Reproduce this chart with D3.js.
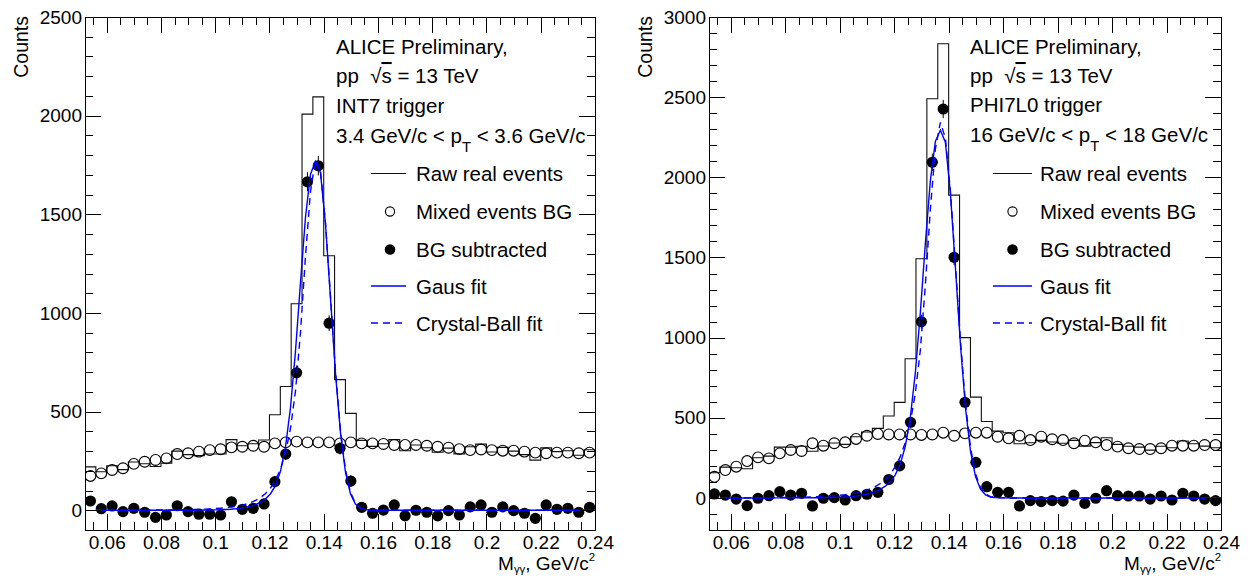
<!DOCTYPE html>
<html>
<head>
<meta charset="utf-8">
<script src="https://cdn.jsdelivr.net/npm/d3@7"></script>
<style>
  html, body { margin: 0; padding: 0; background: #fff; }
  svg { display: block; font-family: "Liberation Sans", Arial, Helvetica, sans-serif; }
  text { white-space: pre; }
</style>
</head>
<body>
<svg id="chart" width="1253" height="577"></svg>
<script>
// ---- Invariant-mass binning (GeV/c^2) ----
const binWidth = 0.004;
const binCenters = [
  0.054, 0.058, 0.062, 0.066, 0.070, 0.074, 0.078, 0.082, 0.086, 0.090,
  0.094, 0.098, 0.102, 0.106, 0.110, 0.114, 0.118, 0.122, 0.126, 0.130,
  0.134, 0.138, 0.142, 0.146, 0.150, 0.154, 0.158, 0.162, 0.166, 0.170,
  0.174, 0.178, 0.182, 0.186, 0.190, 0.194, 0.198, 0.202, 0.206, 0.210,
  0.214, 0.218, 0.222, 0.226, 0.230, 0.234, 0.238
];

// ---- INT7 trigger, 3.4 < pT < 3.6 GeV/c ----
const int7Raw = [
  220, 195, 226, 206, 245, 236, 222, 239, 300, 282,
  277, 285, 285, 358, 327, 337, 356, 484, 627, 1047,
  2008, 2095, 1290, 662, 491, 354, 324, 337, 358, 302,
  331, 317, 294, 315, 286, 322, 335, 295, 319, 300,
  282, 254, 316, 297, 302, 279, 307
];
const int7Mixed = [
  174, 187, 204, 213, 235, 246, 255, 263, 285, 289,
  297, 305, 309, 319, 322, 327, 322, 339, 344, 348,
  344, 344, 344, 339, 344, 339, 339, 336, 331, 331,
  331, 327, 322, 317, 310, 305, 308, 305, 302, 302,
  297, 292, 289, 292, 292, 289, 292
];
const int7Sub = [
  47, 8, 22, -7, 10, -10, -36, -24, 23, -7,
  -20, -20, -24, 43, 5, 10, 32, 145, 285, 697,
  1665, 1746, 948, 314, 148, 15, -15, 1, 27, -28,
  0, -10, -28, -2, -24, 17, 27, -10, 17, -2,
  -15, -41, 27, 5, 10, -10, 15
];
const int7Err = [
  20, 20, 21, 21, 22, 22, 22, 22, 24, 24,
  24, 24, 24, 26, 25, 26, 26, 28, 31, 37,
  48, 49, 40, 31, 29, 26, 26, 26, 26, 25,
  26, 25, 25, 25, 24, 25, 25, 24, 25, 24,
  24, 23, 24, 24, 24, 24, 24
];
const int7Gaus = { amplitude: 1770, mean: 0.1375, sigma: 0.0050, tailSlope: 0.0055 };
const int7CrystalBall = { amplitude: 1785, mean: 0.1374, sigma: 0.0051, alpha: 1.15, n: 6 };

// ---- PHI7L0 trigger, 16 < pT < 18 GeV/c ----
const phi7Raw = [
  157, 192, 188, 182, 251, 261, 317, 317, 322, 291,
  324, 343, 334, 382, 411, 434, 511, 596, 868, 1492,
  2490, 2833, 1889, 1000, 629, 477, 417, 407, 338, 344,
  359, 349, 341, 359, 323, 345, 375, 334, 322, 317,
  298, 322, 313, 355, 338, 323, 313
];
const phi7Mixed = [
  132, 174, 195, 230, 253, 247, 278, 299, 293, 341,
  326, 341, 347, 368, 388, 399, 396, 396, 396, 393,
  396, 407, 388, 403, 407, 407, 382, 372, 388, 361,
  382, 366, 361, 341, 357, 347, 330, 320, 310, 305,
  305, 310, 326, 326, 326, 330, 330
];
const phi7Sub = [
  25, 18, -7, -48, -2, 14, 39, 18, 29, -50,
  -2, 2, -13, 14, 23, 35, 115, 200, 472, 1099,
  2094, 2426, 1501, 597, 222, 70, 35, 35, -50, -17,
  -23, -17, -20, 18, -34, -2, 45, 14, 12, 12,
  -7, 12, -13, 29, 12, -7, -17
];
const phi7Err = [
  17, 19, 20, 20, 22, 23, 24, 25, 25, 25,
  25, 26, 26, 27, 28, 29, 30, 31, 36, 44,
  54, 57, 48, 37, 32, 30, 28, 28, 27, 27,
  27, 27, 26, 26, 26, 26, 26, 25, 25, 25,
  24, 25, 25, 26, 26, 25, 25
];
const phi7Gaus = { amplitude: 2295, mean: 0.13745, sigma: 0.0052, tailSlope: 0.0060 };
const phi7CrystalBall = { amplitude: 2345, mean: 0.1372, sigma: 0.0054, alpha: 1.1, n: 6 };

// ---- Axes ----
const fitRange = [0.056, 0.24];
const xTickLabels = ["0.06", "0.08", "0.1", "0.12", "0.14", "0.16", "0.18", "0.2", "0.22", "0.24"];
const int7YTickLabels = ["0", "500", "1000", "1500", "2000", "2500"];
const phi7YTickLabels = ["0", "500", "1000", "1500", "2000", "2500", "3000"];
const xTitle = [{ text: "M" }, { text: "γγ", sub: true }, { text: ", GeV/c" }, { text: "2", sup: true }];
const yTitle = "Counts";

// ---- Legend and header text ----
const legendLabels = ["Raw real events", "Mixed events BG", "BG subtracted", "Gaus fit", "Crystal-Ball fit"];
const int7Header = [
  [{ text: "ALICE Preliminary," }],
  [{ text: "pp  √" }, { text: "s", over: true }, { text: " = 13 TeV" }],
  [{ text: "INT7 trigger" }],
  [{ text: "3.4 GeV/c < p" }, { text: "T", sub: true }, { text: " < 3.6 GeV/c" }]
];
const phi7Header = [
  [{ text: "ALICE Preliminary," }],
  [{ text: "pp  √" }, { text: "s", over: true }, { text: " = 13 TeV" }],
  [{ text: "PHI7L0 trigger" }],
  [{ text: "16 GeV/c < p" }, { text: "T", sub: true }, { text: " < 18 GeV/c" }]
];

// ---- Fit functions ----
// Gaussian with an exponential low-mass tail
function gausTail(p, m) {
  const d = m - p.mean;
  const g = Math.exp(-0.5 * (d / p.sigma) * (d / p.sigma));
  return d < 0 ? p.amplitude * (g + (1 - g) * Math.exp(d / p.tailSlope)) : p.amplitude * g;
}
// Crystal Ball with a power-law low-mass tail
function crystalBall(p, m) {
  const t = (m - p.mean) / p.sigma;
  if (t > -p.alpha) return p.amplitude * Math.exp(-0.5 * t * t);
  const a = Math.pow(p.n / p.alpha, p.n) * Math.exp(-0.5 * p.alpha * p.alpha);
  const b = p.n / p.alpha - p.alpha;
  return p.amplitude * a / Math.pow(b - t, p.n);
}

const svg = d3.select("#chart");
const FIT_COLOR = "#0000ff";
const FONT_TICK = 19;
const FONT_TEXT = 20.5;

// Writes text pieces with optional sub/superscript and overline
function richText(sel, segments, size, subShift, supShift, scriptScale) {
  let shift = 0;
  segments.forEach(s => {
    const ts = sel.append("tspan").text(s.text);
    let dy = -shift;
    shift = 0;
    if (s.sub) { ts.attr("font-size", size * scriptScale); dy += subShift; shift = subShift; }
    if (s.sup) { ts.attr("font-size", size * scriptScale); dy -= supShift; shift = -supShift; }
    if (s.over) ts.style("text-decoration", "overline");
    if (dy !== 0) ts.attr("dy", dy);
  });
}

function drawPanel(p) {
  const g = svg.append("g");
  const x = d3.scaleLinear().domain([0.052, 0.24]).range([p.left, p.right]);
  const y = d3.scaleLinear().domain(p.yDomain).range([p.bottom, p.top]);

  const clipId = "clip-" + p.id;
  g.append("clipPath").attr("id", clipId)
    .append("rect").attr("x", p.left).attr("y", p.top)
    .attr("width", p.right - p.left).attr("height", p.bottom - p.top);
  const plot = g.append("g").attr("clip-path", `url(#${clipId})`);

  // raw real-event histogram as a step outline
  const steps = [];
  binCenters.forEach((c, i) => {
    steps.push([c - binWidth / 2, p.raw[i]]);
    steps.push([c + binWidth / 2, p.raw[i]]);
  });
  plot.append("path")
    .attr("d", d3.line().x(d => x(d[0])).y(d => y(d[1]))(steps))
    .attr("fill", "none").attr("stroke", "#111").attr("stroke-width", 1.1);

  // mixed-event background (open circles)
  plot.selectAll(null).data(binCenters).join("circle")
    .attr("cx", d => x(d)).attr("cy", (d, i) => y(p.mixed[i]))
    .attr("r", 5.4).attr("fill", "none").attr("stroke", "#000").attr("stroke-width", 1.1);

  // background-subtracted signal with statistical errors
  plot.selectAll(null).data(binCenters).join("line")
    .attr("x1", d => x(d)).attr("x2", d => x(d))
    .attr("y1", (d, i) => y(p.sub[i] - p.err[i])).attr("y2", (d, i) => y(p.sub[i] + p.err[i]))
    .attr("stroke", "#000").attr("stroke-width", 1);
  plot.selectAll(null).data(binCenters).join("circle")
    .attr("cx", d => x(d)).attr("cy", (d, i) => y(p.sub[i]))
    .attr("r", 5.6).attr("fill", "#000");

  // fit curves, sampled like a 100-point function graph
  const samples = d3.range(101).map(i => fitRange[0] + (fitRange[1] - fitRange[0]) * i / 100);
  const curve = d3.line().x(d => x(d[0])).y(d => y(d[1]));
  plot.append("path")
    .attr("d", curve(samples.map(m => [m, crystalBall(p.cb, m)])))
    .attr("fill", "none").attr("stroke", FIT_COLOR).attr("stroke-width", 1.4)
    .attr("stroke-dasharray", "7,5");
  plot.append("path")
    .attr("d", curve(samples.map(m => [m, gausTail(p.gaus, m)])))
    .attr("fill", "none").attr("stroke", FIT_COLOR).attr("stroke-width", 1.4);

  // axes with inward ticks on all four sides
  const xMajor = xTickLabels.map(Number);
  const xMinor = x.ticks(40).filter(v => !xMajor.some(m => Math.abs(m - v) < 1e-9));
  const yMajor = p.yLabels.map(Number);
  const yMinor = y.ticks(p.yMinorCount).filter(v => !yMajor.includes(v));

  function styleAxis(a) {
    a.selectAll("path, line").attr("stroke", "#000").attr("shape-rendering", "crispEdges");
    a.selectAll("text").attr("fill", "#000").attr("font-size", FONT_TICK)
      .attr("font-family", "Liberation Sans, Arial, sans-serif");
  }
  function addAxis(axis, tx, ty) {
    const a = g.append("g").attr("transform", `translate(${tx},${ty})`);
    a.call(axis);
    styleAxis(a);
  }

  addAxis(d3.axisBottom(x).tickValues(xMajor).tickSize(-16).tickSizeOuter(0).tickPadding(6)
    .tickFormat((d, i) => xTickLabels[i]), 0, p.bottom);
  addAxis(d3.axisBottom(x).tickValues(xMinor).tickSize(-8).tickSizeOuter(0).tickFormat(""), 0, p.bottom);
  addAxis(d3.axisTop(x).tickValues(xMajor).tickSize(-16).tickSizeOuter(0).tickFormat(""), 0, p.top);
  addAxis(d3.axisTop(x).tickValues(xMinor).tickSize(-8).tickSizeOuter(0).tickFormat(""), 0, p.top);
  addAxis(d3.axisLeft(y).tickValues(yMajor).tickSize(-16).tickSizeOuter(0).tickPadding(3)
    .tickFormat((d, i) => p.yLabels[i]), p.left, 0);
  addAxis(d3.axisLeft(y).tickValues(yMinor).tickSize(-8).tickSizeOuter(0).tickFormat(""), p.left, 0);
  addAxis(d3.axisRight(y).tickValues(yMajor).tickSize(-16).tickSizeOuter(0).tickFormat(""), p.right, 0);
  addAxis(d3.axisRight(y).tickValues(yMinor).tickSize(-8).tickSizeOuter(0).tickFormat(""), p.right, 0);

  // axis titles
  g.append("text")
    .attr("transform", `translate(${p.left - 57},${p.top - 1}) rotate(-90)`)
    .attr("text-anchor", "end").attr("font-size", 19.5).text(yTitle);
  const xt = g.append("text")
    .attr("x", p.right).attr("y", p.bottom + 40)
    .attr("text-anchor", "end").attr("font-size", 19);
  richText(xt, xTitle, 19, 3, 9, 0.6);

  // header text
  p.header.forEach((line, i) => {
    const t = g.append("text").attr("x", p.headerX).attr("y", p.headerY[i]).attr("font-size", FONT_TEXT);
    richText(t, line, FONT_TEXT, 8.5, 8, 0.72);
  });

  // legend
  const lg = p.legend;
  legendLabels.forEach((label, i) => {
    g.append("text").attr("x", lg.textX).attr("y", lg.rows[i] + 7.5).attr("font-size", FONT_TEXT).text(label);
  });
  g.append("line").attr("x1", lg.lineX1).attr("x2", lg.lineX2)
    .attr("y1", lg.rows[0]).attr("y2", lg.rows[0]).attr("stroke", "#111").attr("stroke-width", 1.1);
  g.append("circle").attr("cx", lg.markerX).attr("cy", lg.rows[1]).attr("r", 4.6)
    .attr("fill", "none").attr("stroke", "#000").attr("stroke-width", 1.1);
  g.append("circle").attr("cx", lg.markerX).attr("cy", lg.rows[2]).attr("r", 5.3).attr("fill", "#000");
  g.append("line").attr("x1", lg.lineX1).attr("x2", lg.lineX2)
    .attr("y1", lg.rows[3]).attr("y2", lg.rows[3]).attr("stroke", FIT_COLOR).attr("stroke-width", 1.4);
  g.append("line").attr("x1", lg.lineX1).attr("x2", lg.lineX2)
    .attr("y1", lg.rows[4]).attr("y2", lg.rows[4]).attr("stroke", FIT_COLOR).attr("stroke-width", 1.4)
    .attr("stroke-dasharray", "7,5");
}

drawPanel({
  id: "int7", left: 85, right: 595, top: 17, bottom: 530,
  yDomain: [-100, 2500], yLabels: int7YTickLabels, yMinorCount: 26,
  raw: int7Raw, mixed: int7Mixed, sub: int7Sub, err: int7Err,
  gaus: int7Gaus, cb: int7CrystalBall,
  header: int7Header, headerX: 336, headerY: [53.5, 83, 112.5, 143],
  legend: { lineX1: 371, lineX2: 406, markerX: 390, textX: 416, rows: [173.5, 211.5, 249.5, 286, 323] }
});

drawPanel({
  id: "phi7", left: 709, right: 1221, top: 17, bottom: 530,
  yDomain: [-200, 3000], yLabels: phi7YTickLabels, yMinorCount: 32,
  raw: phi7Raw, mixed: phi7Mixed, sub: phi7Sub, err: phi7Err,
  gaus: phi7Gaus, cb: phi7CrystalBall,
  header: phi7Header, headerX: 970, headerY: [53.5, 83, 112, 142],
  legend: { lineX1: 993, lineX2: 1032, markerX: 1012.5, textX: 1040, rows: [173.5, 211.5, 249.5, 286, 323] }
});
</script>
</body>
</html>
